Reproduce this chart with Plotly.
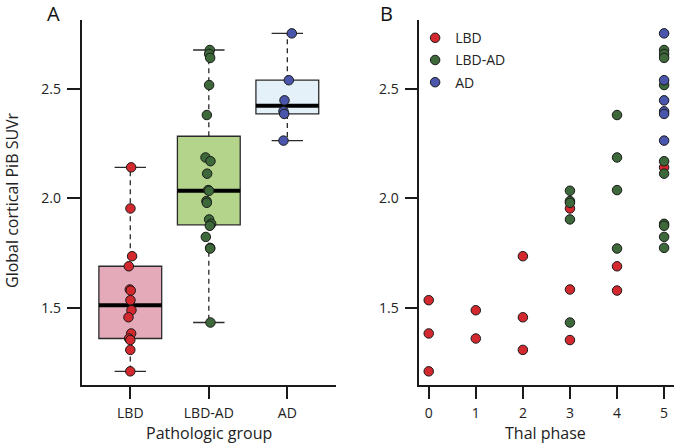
import numpy as np
import plotly.graph_objects as go

# ---------------- data ----------------
groups = ["LBD", "LBD-AD", "AD"]
thal_ticks = [0, 1, 2, 3, 4, 5]

lbd_suvr = [2.142, 1.954, 1.736, 1.690, 1.584, 1.579, 1.535, 1.489, 1.457, 1.383, 1.360, 1.353, 1.308, 1.210]
lbd_thal = [5, 3, 2, 4, 3, 4, 0, 1, 2, 0, 1, 3, 2, 0]
lbd_jitter = [0.011, 0.002, 0.023, -0.019, -0.006, 0.006, 0.002, 0.015, -0.023, 0.011, -0.015, 0.0, 0.0, 0.0]

lbdad_suvr = [2.678, 2.660, 2.642, 2.518, 2.381, 2.187, 2.170, 2.113, 2.038, 2.035,
              1.988, 1.980, 1.904, 1.884, 1.875, 1.824, 1.774, 1.771, 1.433]
lbdad_thal = [5, 5, 5, 5, 4, 4, 5, 5, 4, 3, 3, 3, 3, 5, 5, 5, 5, 4, 3]
lbdad_jitter = [0.013, 0.004, 0.017, 0.004, -0.025, -0.042, 0.021, -0.021, -0.008, 0.004,
                -0.030, -0.025, 0.004, 0.030, 0.013, -0.038, 0.017, 0.017, 0.021]

ad_suvr = [2.754, 2.540, 2.448, 2.398, 2.386, 2.264]
ad_thal = [5, 5, 5, 5, 5, 5]
ad_jitter = [0.057, 0.019, -0.036, -0.049, -0.040, -0.049]

point_colors = ["#d3282e", "#3d6839", "#4a56ab"]
box_fills = ["#e4aab9", "#b4d48c", "#e4f1f8"]

suvr = [lbd_suvr, lbdad_suvr, ad_suvr]
thal = [lbd_thal, lbdad_thal, ad_thal]
jitter = [lbd_jitter, lbdad_jitter, ad_jitter]

FONT = "Open Sans"
TXT = "#222222"
AX = "#1a1a1a"


def fivenum(v):
    s = np.sort(np.asarray(v, dtype=float))
    n = len(s)
    n4 = np.floor((n + 3) / 2) / 2
    d = np.array([1, n4, (n + 1) / 2, n + 1 - n4, n]) - 1
    return 0.5 * (s[np.floor(d).astype(int)] + s[np.ceil(d).astype(int)])


fig = go.Figure()

# ---------------- panel A: boxplots ----------------
for i, g in enumerate(groups):
    v = np.asarray(suvr[i])
    mn, q1, med, q3, mx = fivenum(v)
    iqr = q3 - q1
    lo = v[v >= q1 - 1.5 * iqr].min()
    hi = v[v <= q3 + 1.5 * iqr].max()
    fig.add_trace(go.Box(
        x=[i], q1=[q1], median=[med], q3=[q3], lowerfence=[q1], upperfence=[q3],
        width=0.8, fillcolor=box_fills[i], line=dict(color="#2a2a2a", width=1.3),
        whiskerwidth=0, boxpoints=False, showlegend=False, hoverinfo="skip",
        xaxis="x", yaxis="y"))
    # dashed whiskers
    fig.add_trace(go.Scatter(
        x=[i, i, None, i, i], y=[q3, hi, None, q1, lo], mode="lines",
        line=dict(color="#2a2a2a", width=1.3, dash="5px,4px"),
        showlegend=False, hoverinfo="skip", xaxis="x", yaxis="y"))
    # caps
    fig.add_trace(go.Scatter(
        x=[i - 0.2, i + 0.2, None, i - 0.2, i + 0.2], y=[hi, hi, None, lo, lo], mode="lines",
        line=dict(color="#2a2a2a", width=1.3),
        showlegend=False, hoverinfo="skip", xaxis="x", yaxis="y"))
    # median
    fig.add_trace(go.Scatter(
        x=[i - 0.4, i + 0.4], y=[med, med], mode="lines",
        line=dict(color="black", width=4),
        showlegend=False, hoverinfo="skip", xaxis="x", yaxis="y"))

for i, g in enumerate(groups):
    fig.add_trace(go.Scatter(
        x=[i + j for j in jitter[i]], y=suvr[i], mode="markers",
        marker=dict(size=9.5, color=point_colors[i], line=dict(color="#1a1a1a", width=1)),
        showlegend=False, name=g, xaxis="x", yaxis="y"))

# ---------------- panel B: scatter ----------------
for i, g in enumerate(groups):
    fig.add_trace(go.Scatter(
        x=thal[i], y=suvr[i], mode="markers", name=g, legendgroup=g,
        marker=dict(size=9.5, color=point_colors[i], line=dict(color="#1a1a1a", width=1)),
        xaxis="x2", yaxis="y2"))

ylo, yhi = 1.148, 2.816
axis_common = dict(showline=True, linecolor=AX, linewidth=1.5, ticks="outside",
                   tickcolor=AX, tickwidth=1.5, showgrid=False, zeroline=False,
                   tickfont=dict(family=FONT, size=14, color=TXT), ticklabelstandoff=3)

fig.update_layout(
    width=675, height=444,
    margin=dict(l=0, r=0, t=0, b=0),
    paper_bgcolor="white", plot_bgcolor="white",
    font=dict(family=FONT, color=TXT),
    xaxis=dict(domain=[0.1209, 0.4978], range=[-0.62, 2.62], tickvals=[0, 1, 2],
               ticktext=groups, ticklen=12, anchor="y", **axis_common),
    yaxis=dict(domain=[0.1331, 0.9554], range=[ylo, yhi], tickvals=[1.5, 2.0, 2.5],
               ticktext=["1.5", "2.0", "2.5"], ticklen=13, anchor="x", **axis_common),
    xaxis2=dict(domain=[0.6212, 0.9978], range=[-0.2, 5.2], tickvals=thal_ticks,
                ticktext=[str(t) for t in thal_ticks], ticklen=12, anchor="y2", **axis_common),
    yaxis2=dict(domain=[0.1331, 0.9554], range=[ylo, yhi], tickvals=[1.5, 2.0, 2.5],
                ticktext=["1.5", "2.0", "2.5"], ticklen=13, anchor="x2", **axis_common),
    legend=dict(x=0.615, y=0.95, xanchor="left", yanchor="top", bgcolor="rgba(0,0,0,0)",
                font=dict(family=FONT, size=14, color=TXT), traceorder="grouped",
                tracegroupgap=1, itemwidth=30),
    annotations=[
        dict(text="A", x=53 / 675, y=1 - 13.5 / 444, xref="paper", yref="paper",
             showarrow=False, font=dict(family=FONT, size=20, color="#111111"),
             xanchor="center", yanchor="middle"),
        dict(text="B", x=386.7 / 675, y=1 - 13.5 / 444, xref="paper", yref="paper",
             showarrow=False, font=dict(family=FONT, size=20, color="#111111"),
             xanchor="center", yanchor="middle"),
        dict(text="Pathologic group", x=209 / 675, y=1 - 433 / 444, xref="paper", yref="paper",
             showarrow=False, font=dict(family=FONT, size=16, color=TXT),
             xanchor="center", yanchor="middle"),
        dict(text="Thal phase", x=545.5 / 675, y=1 - 433 / 444, xref="paper", yref="paper",
             showarrow=False, font=dict(family=FONT, size=16, color=TXT),
             xanchor="center", yanchor="middle"),
        dict(text="Global cortical PiB SUVr", x=12 / 675, y=1 - 200 / 444, xref="paper",
             yref="paper", showarrow=False, textangle=-90,
             font=dict(family=FONT, size=16, color=TXT), xanchor="center", yanchor="middle"),
    ],
)

fig.write_html(
    "out.html",
    config={"displayModeBar": False},
    post_script="document.body.style.margin='0';document.body.style.overflow='hidden';",
)
